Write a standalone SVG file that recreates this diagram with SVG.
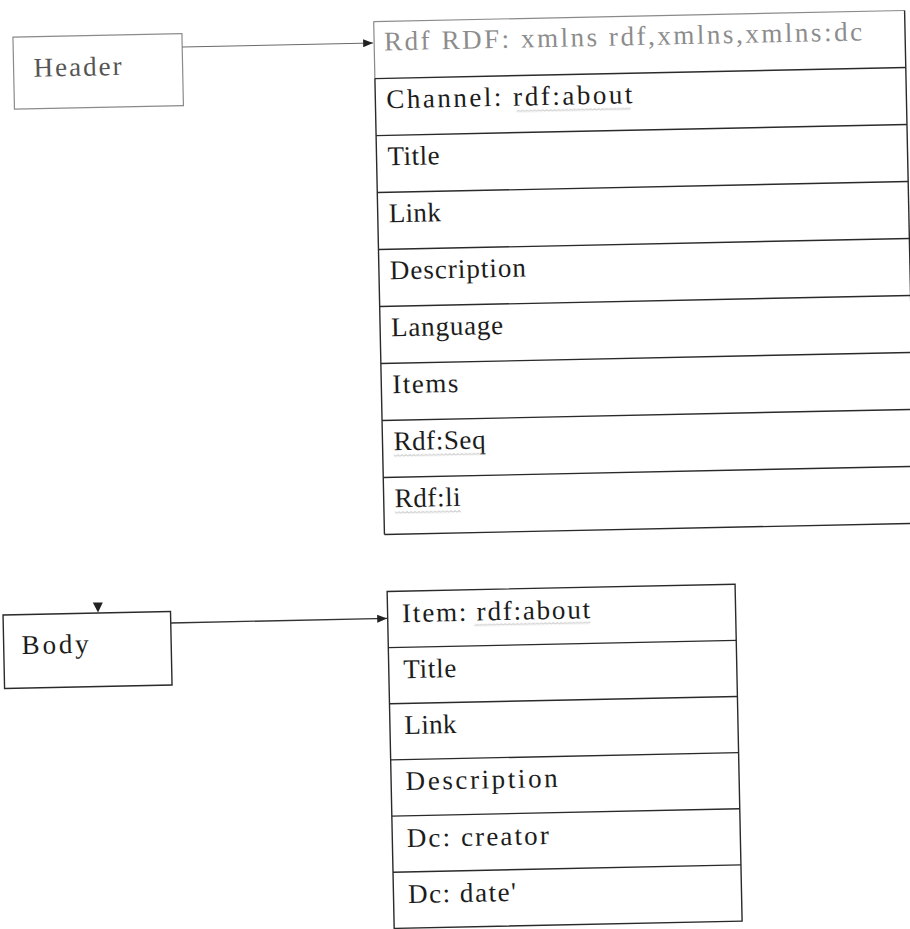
<svg xmlns="http://www.w3.org/2000/svg" width="910" height="929" viewBox="0 0 910 929">
<style>
.bg{fill:#ffffff}
.box{fill:none;stroke:#2a2a2a;stroke-width:1.4}
.faint{fill:none;stroke:#8a8a8a;stroke-width:1.2}
.t{font-family:"Liberation Serif","Times New Roman",serif;font-size:27px;fill:#1c1c1c}
.tg{fill:#8c8c8c}
.th{fill:#555555}
.conn{fill:none;stroke:#333333;stroke-width:1.3}
.connf{fill:none;stroke:#6a6a6a;stroke-width:1.1}
</style>
<defs>
<marker id="ah" markerUnits="userSpaceOnUse" markerWidth="10" markerHeight="8" refX="10" refY="4" orient="auto">
<path d="M0,0 L10,4 L0,8 z" fill="#222"/>
</marker>
<pattern id="sq" width="4" height="3" patternUnits="userSpaceOnUse">
<path d="M0 2.5 L2 0.5 L4 2.5" fill="none" stroke="#9a9a9a" stroke-width="0.8"/>
</pattern>
</defs>
<rect class="bg" x="0" y="0" width="910" height="929"/>
<g transform="rotate(-1.2 455 465)">
<g id="header">
<rect class="faint" x="22" y="28" width="169" height="72"/>
<text class="t th" x="42" y="68" textLength="88" lengthAdjust="spacing">Header</text>
</g>
<g id="rdf-table">
<line class="faint" x1="383" y1="20" x2="914" y2="20"/>
<line class="faint" x1="383" y1="20" x2="383" y2="77"/>
<line class="box" x1="383" y1="77" x2="383" y2="533"/>
<line class="box" x1="914" y1="20" x2="914" y2="533"/>
<line class="box" x1="383" y1="533" x2="914" y2="533"/>
<line class="box" x1="383" y1="77" x2="914" y2="77"/>
<line class="box" x1="383" y1="134" x2="914" y2="134"/>
<line class="box" x1="383" y1="191" x2="914" y2="191"/>
<line class="box" x1="383" y1="248" x2="914" y2="248"/>
<line class="box" x1="383" y1="305" x2="914" y2="305"/>
<line class="box" x1="383" y1="362" x2="914" y2="362"/>
<line class="box" x1="383" y1="419" x2="914" y2="419"/>
<line class="box" x1="383" y1="476" x2="914" y2="476"/>
<text class="t tg" x="393" y="49" textLength="478" lengthAdjust="spacing">Rdf RDF:  xmlns rdf,xmlns,xmlns:dc</text>
<text class="t" x="394" y="107" textLength="246" lengthAdjust="spacing">Channel:  rdf:about</text>
<rect x="524" y="111" width="114" height="3" fill="url(#sq)"/>
<text class="t" x="394" y="164" textLength="52" lengthAdjust="spacing">Title</text>
<text class="t" x="394" y="221" textLength="52" lengthAdjust="spacing">Link</text>
<text class="t" x="394" y="278" textLength="136" lengthAdjust="spacing">Description</text>
<text class="t" x="394" y="335" textLength="112" lengthAdjust="spacing">Language</text>
<text class="t" x="394" y="392" textLength="66" lengthAdjust="spacing">Items</text>
<text class="t" x="394" y="449" textLength="92" lengthAdjust="spacing">Rdf:Seq</text>
<rect x="394" y="453" width="92" height="3" fill="url(#sq)"/>
<text class="t" x="394" y="506" textLength="66" lengthAdjust="spacing">Rdf:li</text>
<rect x="394" y="510" width="66" height="3" fill="url(#sq)"/>
</g>
<g id="body">
<rect class="box" x="0" y="605.5" width="167.5" height="73.5"/>
<text class="t" x="18" y="645" textLength="67" lengthAdjust="spacing">Body</text>
</g>
<g id="item-table">
<rect class="box" x="384.5" y="590" width="348" height="337"/>
<line class="box" x1="384.5" y1="646.2" x2="732.5" y2="646.2"/>
<line class="box" x1="384.5" y1="702.3" x2="732.5" y2="702.3"/>
<line class="box" x1="384.5" y1="758.5" x2="732.5" y2="758.5"/>
<line class="box" x1="384.5" y1="814.7" x2="732.5" y2="814.7"/>
<line class="box" x1="384.5" y1="870.8" x2="732.5" y2="870.8"/>
<text class="t" x="399" y="621" textLength="188" lengthAdjust="spacing">Item: rdf:about</text>
<rect x="471" y="624" width="116" height="3" fill="url(#sq)"/>
<text class="t" x="399" y="677" textLength="53" lengthAdjust="spacing">Title</text>
<text class="t" x="399" y="733" textLength="52" lengthAdjust="spacing">Link</text>
<text class="t" x="399" y="789" textLength="152" lengthAdjust="spacing">Description</text>
<text class="t" x="399" y="846" textLength="142" lengthAdjust="spacing">Dc: creator</text>
<text class="t" x="399" y="902" textLength="108" lengthAdjust="spacing">Dc: date'</text>
</g>
<g id="connectors">
<line class="connf" x1="191" y1="41.4" x2="382" y2="41.4" marker-end="url(#ah)"/>
<line class="conn" x1="167.5" y1="617" x2="384" y2="617" marker-end="url(#ah)"/>
<polygon points="90,595 100,595 95,605" fill="#222"/>
</g>
</g>
</svg>
